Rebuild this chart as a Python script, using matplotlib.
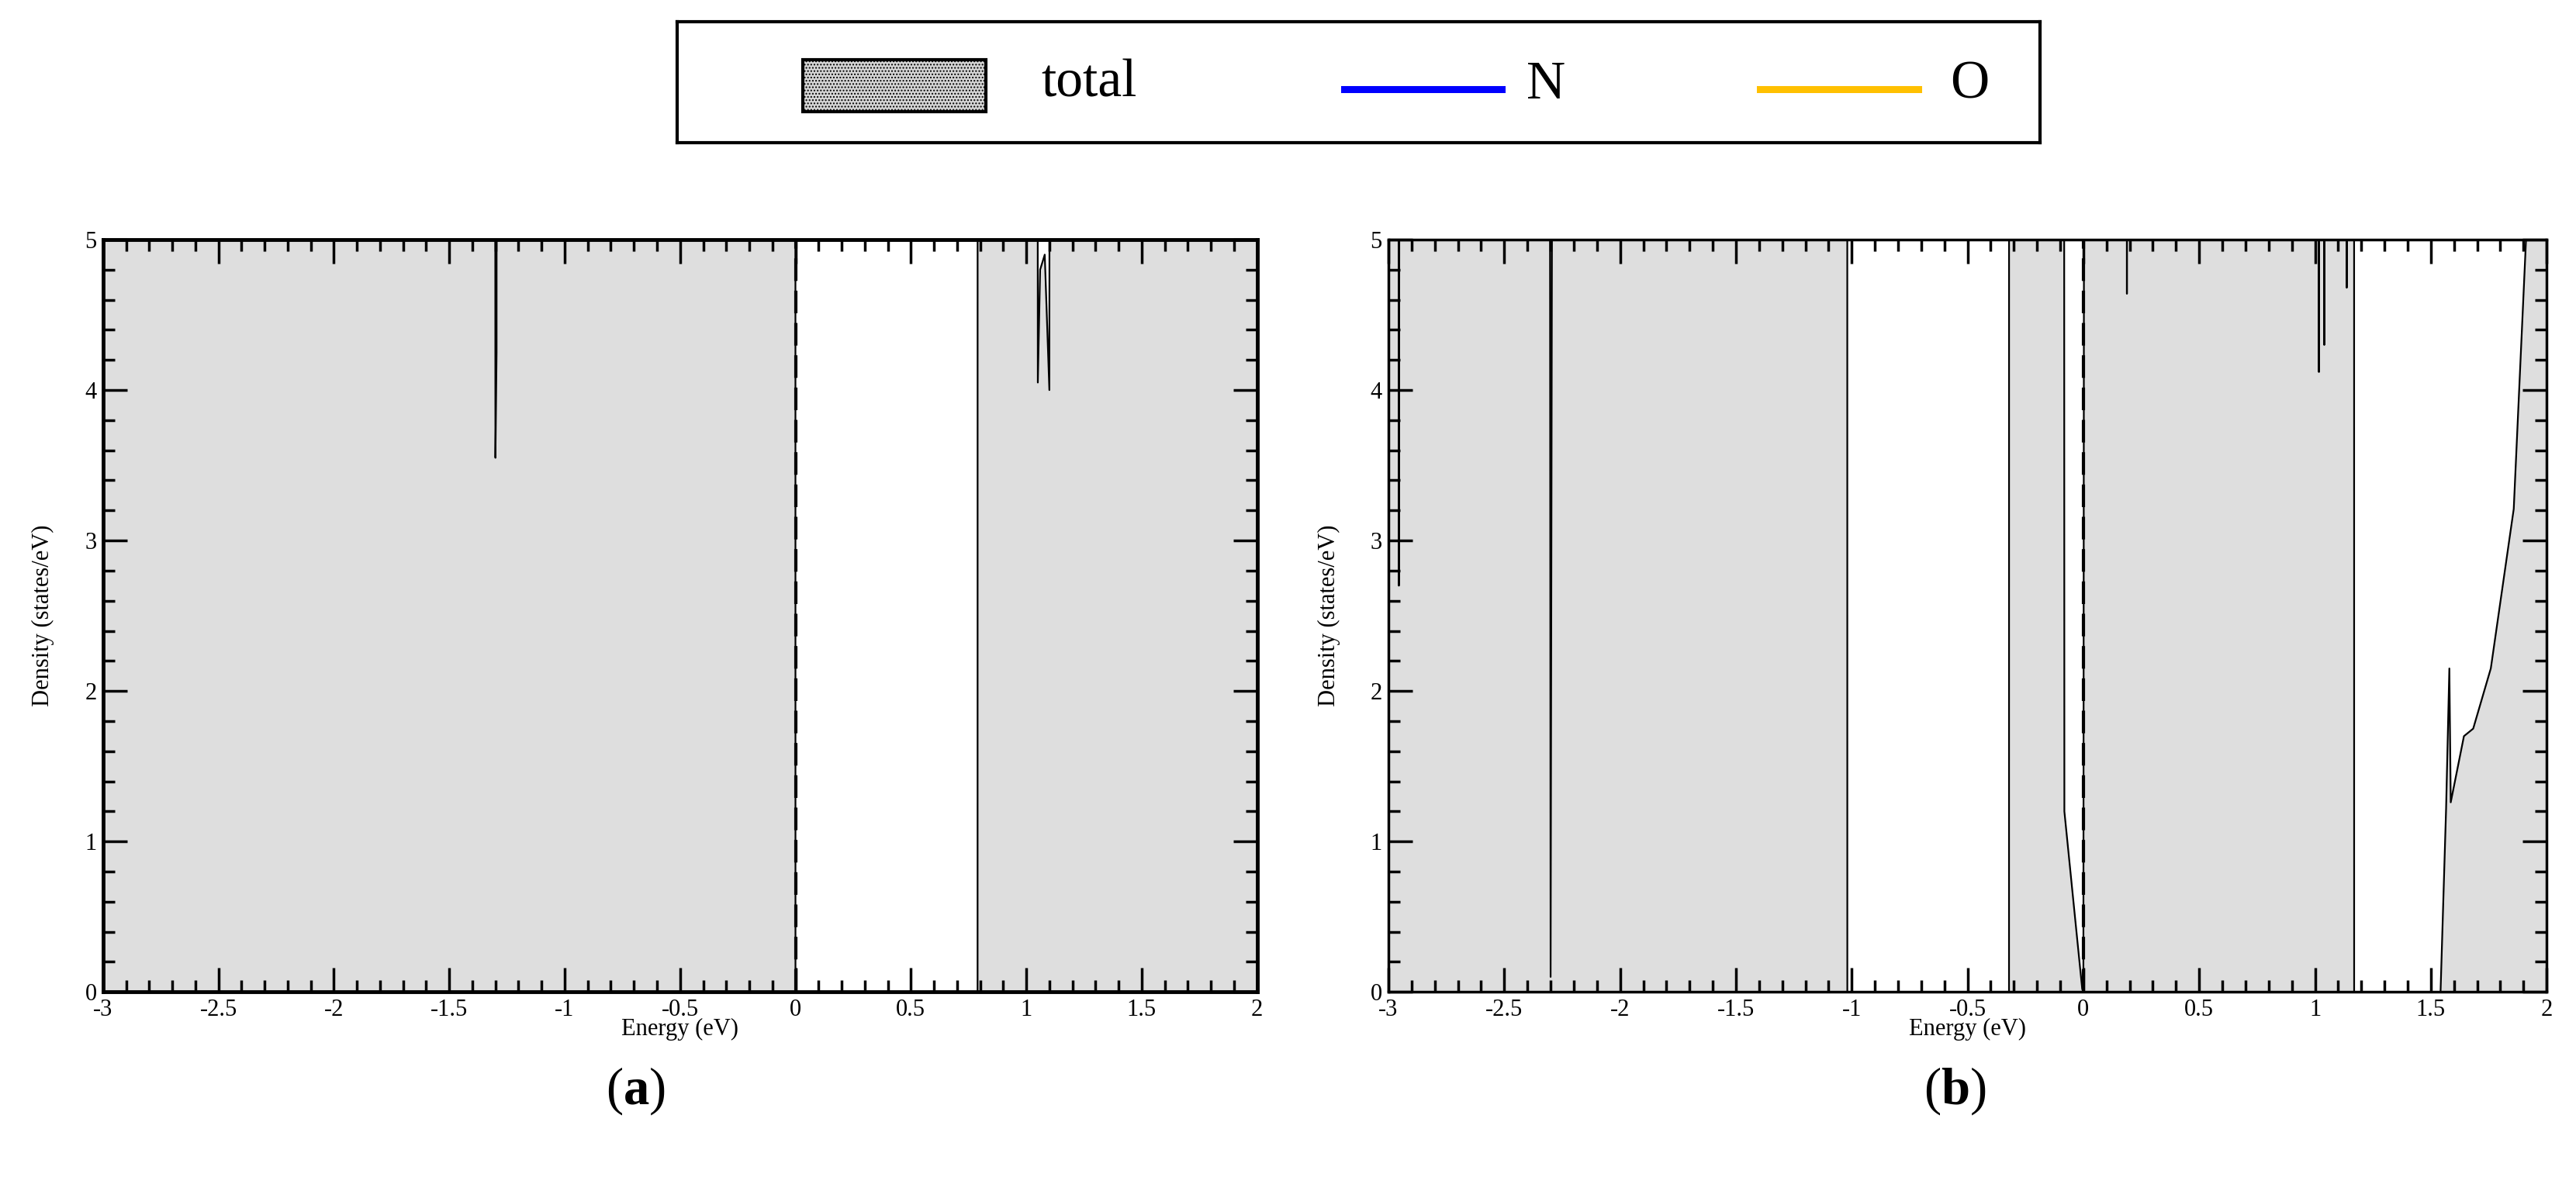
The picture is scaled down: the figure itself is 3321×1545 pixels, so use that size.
import numpy as np
import matplotlib
matplotlib.use("Agg")
import matplotlib.pyplot as plt
from matplotlib.ticker import MultipleLocator, FixedLocator
from matplotlib.patches import Rectangle
from matplotlib.lines import Line2D

plt.rcParams['font.family'] = ['Liberation Serif', 'DejaVu Serif']
plt.rcParams['mathtext.fontset'] = 'custom'
plt.rcParams['mathtext.rm'] = 'Liberation Serif'
plt.rcParams['mathtext.bf'] = 'Liberation Serif:bold'

# total DOS (states/eV); values far above 5 are clipped by the axis
energy_a = [-3.0, -1.31, -1.30, -1.295, -1.29, -0.001, 0.0, 0.789, 0.79,
            1.04, 1.05, 1.06, 1.08, 1.10, 1.11, 2.0]
total_a = [30, 30, 3.55, 4.25, 30, 30, 0.0, 0.0, 30,
           30, 4.05, 4.8, 4.9, 4.0, 30, 30]

energy_b = [-3.0, -2.97, -2.955, -2.935, -2.315, -2.30, -2.265,
            -1.02, -1.019, -0.321, -0.32, -0.088, -0.082, -0.005, 0.0, 0.015,
            0.18, 0.188, 0.196, 1.005, 1.017, 1.03, 1.04, 1.05,
            1.13, 1.137, 1.145, 1.168, 1.169, 1.542, 1.566, 1.58, 1.586,
            1.643, 1.683, 1.759, 1.858, 1.911, 1.915, 2.0]
total_b = [30, 30, 2.7, 30, 30, 0.1, 30,
           30, 0.0, 0.0, 30, 30, 1.2, 0.02, 0.0, 30,
           30, 4.64, 30, 30, 4.12, 30, 4.3, 30,
           30, 4.68, 30, 30, 0.0, 0.0, 1.22, 2.15, 1.26,
           1.70, 1.75, 2.15, 3.21, 5.0, 30, 30]

x_ticks = [-3, -2.5, -2, -1.5, -1, -0.5, 0, 0.5, 1, 1.5, 2]
x_labels = ['-3', '-2.5', '-2', '-1.5', '-1', '-0.5', '0', '0.5', '1', '1.5', '2']
y_ticks = [0, 1, 2, 3, 4, 5]

legend_labels = ['total', 'N', 'O']
fill_color = '#dedede'
n_color = '#0000ff'
o_color = '#ffc000'

fig = plt.figure(figsize=(33.21, 15.45), dpi=100)

ax_a = fig.add_axes([0.040, 0.172, 0.448, 0.628])
ax_b = fig.add_axes([0.539, 0.172, 0.4496, 0.628])

for ax, e, d, lw in [(ax_a, energy_a, total_a, 3.5), (ax_b, energy_b, total_b, 2.5)]:
    ax.fill_between(e, 0, d, color=fill_color, linewidth=0)
    ax.plot(e, d, color='black', linewidth=1.6)
    ax.axvline(0, color='black', linestyle=(0, (7, 3)), linewidth=3)
    ax.set_xlim(-3, 2)
    ax.set_ylim(0, 5)
    ax.xaxis.set_major_locator(FixedLocator(x_ticks))
    ax.set_xticklabels(x_labels)
    ax.xaxis.set_minor_locator(MultipleLocator(0.1))
    ax.set_yticks(y_ticks)
    ax.yaxis.set_minor_locator(MultipleLocator(0.2))
    ax.tick_params(which='both', direction='in', top=True, right=True,
                   labelsize=22, width=2.5, pad=6)
    ax.tick_params(which='major', length=22)
    ax.tick_params(which='minor', length=11)
    for s in ax.spines.values():
        s.set_linewidth(lw)
    ax.set_xlabel('Energy (eV)', fontsize=22, labelpad=-3)
    ax.set_ylabel('Density (states/eV)', fontsize=22, labelpad=28)

fig.text(0.2466, 0.089, r'($\mathbf{a}$)', fontsize=48, ha='center', va='center')
fig.text(0.759, 0.089, r'($\mathbf{b}$)', fontsize=48, ha='center', va='center')

# legend box drawn in its own axes
lg = fig.add_axes([873 / 3321, 1 - 184 / 1545, (2630 - 873) / 3321, 156 / 1545])
lg.set_xlim(0, 1757)
lg.set_ylim(156, 0)
lg.set_xticks([])
lg.set_yticks([])
for s in lg.spines.values():
    s.set_linewidth(3)
lg.add_patch(Rectangle((162, 49), 236, 67, facecolor='#d6d6d6', edgecolor='black',
                       linewidth=3, hatch='....'))
lg.text(469, 80, legend_labels[0], fontsize=50, ha='left', va='center')
lg.add_line(Line2D([860, 1063], [87, 87], color=n_color, linewidth=6.5))
lg.text(1095, 82, legend_labels[1], fontsize=50, ha='left', va='center')
lg.add_line(Line2D([1396, 1600], [87, 87], color=o_color, linewidth=6.5))
lg.text(1641, 82, legend_labels[2], fontsize=50, ha='left', va='center')

fig.savefig('out.png', dpi=100)
